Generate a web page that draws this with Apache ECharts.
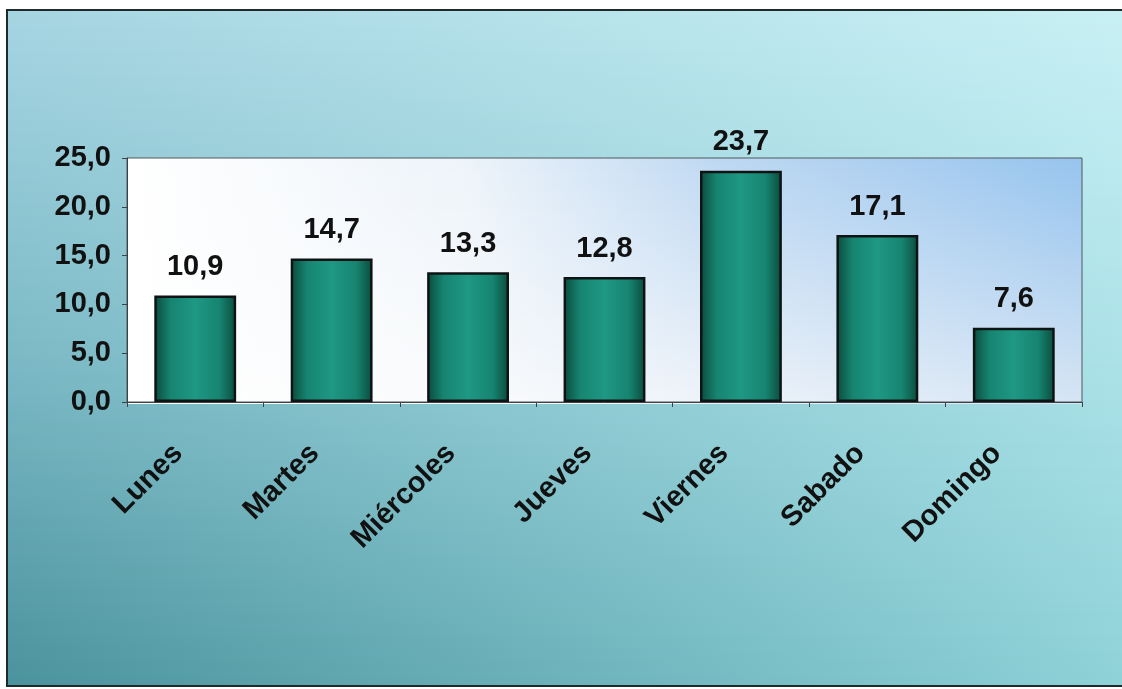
<!DOCTYPE html>
<html>
<head>
<meta charset="utf-8">
<title>Distribución por día de la semana</title>
<script src="https://cdn.jsdelivr.net/npm/echarts@6/dist/echarts.min.js"></script>
<style>
  html, body { margin: 0; padding: 0; background: #ffffff; }
  #frame {
    position: absolute; left: 6px; top: 9px; width: 1116px; height: 678px;
    box-sizing: border-box;
    border-top: 2px solid #1f2b2b; border-left: 2px solid #1f2b2b; border-bottom: 2px solid #1f2b2b;
  }
  #chart { width: 100%; height: 100%; }
</style>
</head>
<body>
<div id="frame"><div id="chart"></div></div>
<script>
// Days of the week and their percentage values
const dias = ['Lunes', 'Martes', 'Miércoles', 'Jueves', 'Viernes', 'Sabado', 'Domingo'];
const valores = [10.9, 14.7, 13.3, 12.8, 23.7, 17.1, 7.6];

// Value axis range
const yMin = 0;
const yMax = 25;
const yStep = 5;

const fmt = v => v.toFixed(1).replace('.', ',');
const FONT = '"Liberation Sans", Arial, sans-serif';
const FS = 29;
const G = echarts.graphic.LinearGradient;

const W = 1114, H = 676;
const GRID = { left: 119, right: 40, top: 147, bottom: 283 };

function lerp(a, b, f) { return a.map((c, k) => Math.round(c + (b[k] - c) * f)); }
function mix(stops, t) {
  const s = t * (stops.length - 1);
  const i = Math.min(Math.floor(s), stops.length - 2);
  return lerp(stops[i], stops[i + 1], s - i);
}
const rgb = c => `rgb(${c[0]},${c[1]},${c[2]})`;

// Fill a rectangle with a two-dimensional blend: horizontal strips, each carrying
// a left-to-right gradient interpolated between the top and bottom rows.
function blendStrips(x0, y0, w, h, offsets, topRow, bottomRow, z, strip) {
  const out = [];
  for (let y = 0; y < h; y += strip) {
    const hh = Math.min(strip, h - y);
    const t = (y + hh / 2) / h;
    out.push({
      type: 'rect', left: x0, top: y0 + y, z: z, silent: true,
      shape: { width: w, height: hh + (y + hh < h ? 1 : 0) },
      style: { fill: new G(0, 0, 1, 0, offsets.map((o, i) => ({
        offset: o, color: rgb(lerp(topRow[i], bottomRow[i], t))
      }))) }
    });
  }
  return out;
}

// Teal backdrop: pale at the top, deeper toward the bottom left
function backdrop() {
  const leftStops = [[166, 213, 226], [124, 186, 198], [74, 146, 156]];
  const rightStops = [[200, 240, 244], [172, 226, 232], [142, 210, 216]];
  const out = [];
  const strip = 6;
  for (let y = 0; y < H; y += strip) {
    const t = Math.min(1, (y + strip / 2) / H);
    out.push({
      type: 'rect', left: 0, top: y, z: -10, silent: true,
      shape: { width: W, height: strip + 1 },
      style: { fill: new G(0, 0, 1, 0, [
        { offset: 0, color: rgb(mix(leftStops, t)) },
        { offset: 1, color: rgb(mix(rightStops, t)) }
      ]) }
    });
  }
  return out;
}

// Plot area: white on the left, turning sky blue toward the upper right
const plotW = W - GRID.left - GRID.right;
const plotH = H - GRID.top - GRID.bottom;
const plotFill = blendStrips(
  GRID.left, GRID.top, plotW, plotH,
  [0, 0.35, 0.62, 1],
  [[255, 255, 255], [238, 244, 250], [190, 216, 242], [150, 196, 238]],
  [[255, 255, 255], [250, 251, 252], [238, 243, 249], [214, 229, 244]],
  -5, 4
);

const chart = echarts.init(document.getElementById('chart'), null, { renderer: 'canvas' });

chart.setOption({
  animation: false,
  backgroundColor: '#80bcc6',
  graphic: backdrop().concat(plotFill),
  grid: {
    left: GRID.left, right: GRID.right, top: GRID.top, bottom: GRID.bottom,
    show: true,
    borderColor: '#4e585c',
    borderWidth: 1,
    backgroundColor: 'transparent'
  },
  xAxis: {
    type: 'category',
    data: dias,
    axisLine: { show: true, lineStyle: { color: '#3a4448', width: 1 } },
    axisTick: { show: true, alignWithLabel: false, length: 5, lineStyle: { color: '#3a4448' } },
    axisLabel: {
      rotate: 45,
      margin: 30,
      padding: [0, 24, 0, 0],
      fontFamily: FONT,
      fontWeight: 'bold',
      fontSize: FS,
      color: '#111111'
    }
  },
  yAxis: {
    type: 'value',
    min: yMin, max: yMax, interval: yStep,
    splitLine: { show: false },
    axisLine: { show: true, lineStyle: { color: '#3a4448', width: 1 } },
    axisTick: { show: true, length: 5, lineStyle: { color: '#3a4448' } },
    axisLabel: {
      formatter: fmt,
      margin: 16,
      fontFamily: FONT,
      fontWeight: 'bold',
      fontSize: FS,
      color: '#111111'
    }
  },
  series: [{
    type: 'bar',
    data: valores,
    barWidth: '60%',
    itemStyle: {
      color: new G(0, 0, 1, 0, [
        { offset: 0, color: '#0b4a3c' },
        { offset: 0.2, color: '#168470' },
        { offset: 0.5, color: '#1f9884' },
        { offset: 0.8, color: '#168470' },
        { offset: 1, color: '#0b4a3c' }
      ]),
      borderColor: '#0e1414',
      borderWidth: 2.5
    },
    label: {
      show: true,
      position: 'top',
      distance: 14,
      formatter: p => fmt(p.value),
      fontFamily: FONT,
      fontWeight: 'bold',
      fontSize: FS,
      color: '#111111'
    }
  }]
});
</script>
</body>
</html>
